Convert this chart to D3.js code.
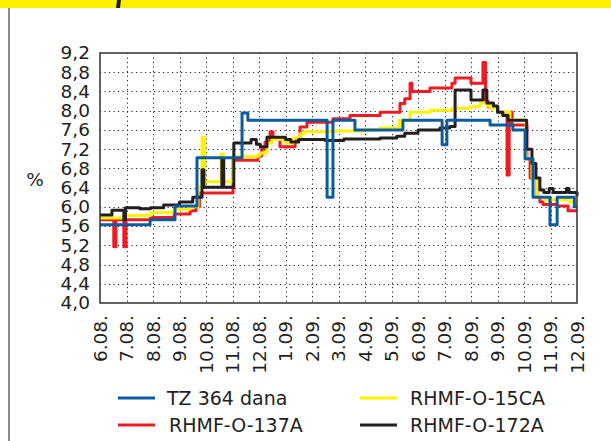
<!DOCTYPE html>
<html>
<head>
<meta charset="utf-8">
<script src="https://cdn.jsdelivr.net/npm/d3@7"></script>
<style>
  body { margin: 0; background: #fff; }
  svg { display: block; font-family: "DejaVu Sans", sans-serif; }
</style>
</head>
<body>
<svg id="chart" width="611" height="441"></svg>
<script>
(function () {
    'use strict';

    // month labels on the x axis (one per month)
    const months = ["6.08.", "7.08.", "8.08.", "9.08.", "10.08.", "11.08.", "12.08.",
        "1.09.", "2.09.", "3.09.", "4.09.", "5.09.", "6.09.", "7.09.", "8.09.",
        "9.09.", "10.09.", "11.09.", "12.09."];
    const yTicks = [4.0, 4.4, 4.8, 5.2, 5.6, 6.0, 6.4, 6.8, 7.2, 7.6, 8.0, 8.4, 8.8, 9.2];

    // [month position, %]
    const tz364 = [[0, 5.63], [1.89, 5.73], [2.83, 6.02], [3.66, 7.02], [5.36, 7.95], [5.58, 7.8],
        [8.57, 6.2], [8.79, 7.8], [9.62, 7.6], [11.43, 7.8], [12.91, 7.29], [13.09, 7.8],
        [14.72, 7.7], [15.58, 7.6], [16.04, 7.0], [16.34, 6.2], [16.98, 5.63], [17.25, 6.2],
        [17.9, 6.0], [18, 6.0]];
    const rhmf137 = [[0, 5.73], [0.52, 5.17], [0.6, 5.73], [0.9, 5.17], [0.98, 5.73], [1.9, 5.78],
        [2.8, 5.85], [3.4, 5.92], [3.62, 6.0], [3.75, 6.29], [5.02, 6.97], [5.96, 7.06],
        [6.1, 7.2], [6.23, 7.35], [6.42, 7.56], [6.53, 7.4], [6.79, 7.25], [7.36, 7.4],
        [7.55, 7.66], [7.81, 7.76], [8.79, 7.83], [9.43, 7.9], [10.57, 7.97], [11.32, 8.15],
        [11.5, 8.25], [11.7, 8.57], [11.77, 8.4], [12.45, 8.47], [13.28, 8.57], [13.4, 8.68],
        [14.0, 8.57], [14.45, 9.0], [14.55, 8.2], [14.64, 8.08], [15.02, 7.97], [15.36, 6.66],
        [15.44, 7.97], [15.55, 7.7], [16.11, 7.0], [16.23, 6.6], [16.49, 6.2], [16.6, 6.1],
        [16.72, 6.05], [17.25, 6.02], [17.66, 5.92], [18, 5.92]];
    const rhmf15 = [[0, 5.77], [0.9, 5.82], [1.9, 5.88], [2.8, 5.95], [3.4, 6.0], [3.7, 6.4],
        [3.85, 7.45], [3.95, 6.52], [4.57, 7.1], [4.65, 6.52], [5.02, 7.04], [5.96, 7.08],
        [6.05, 7.12], [6.3, 7.33], [6.49, 7.4], [7.0, 7.33], [7.3, 7.43], [7.55, 7.52],
        [7.7, 7.56], [8.8, 7.58], [10.0, 7.6], [10.57, 7.64], [11.3, 7.8], [11.7, 7.97],
        [12.45, 8.01], [13.28, 8.05], [13.96, 8.08], [14.34, 8.16], [14.6, 8.1], [14.75, 8.05],
        [15.0, 7.97], [15.47, 7.8], [16.08, 7.0], [16.3, 6.6], [16.49, 6.2], [16.8, 6.15],
        [17.7, 6.1], [18, 6.1]];
    const rhmf172 = [[0, 5.83], [0.45, 5.93], [0.9, 5.73], [0.96, 5.98], [1.5, 5.96], [1.9, 5.98],
        [2.4, 6.04], [3.0, 6.1], [3.5, 6.2], [3.85, 6.77], [3.92, 6.41], [4.6, 7.0], [4.67, 6.41],
        [5.05, 7.33], [5.7, 7.4], [5.9, 7.3], [6.05, 7.25], [6.3, 7.45], [7.0, 7.4], [7.2, 7.35],
        [7.5, 7.4], [8.5, 7.38], [9.2, 7.41], [10.57, 7.43], [11.2, 7.47], [11.5, 7.53],
        [12.0, 7.6], [12.83, 7.64], [13.2, 7.67], [13.4, 8.43], [14.0, 8.22], [14.45, 8.43],
        [14.6, 8.16], [14.85, 8.1], [15.0, 7.97], [15.2, 7.9], [15.4, 7.8], [16.1, 7.2],
        [16.3, 6.9], [16.45, 6.6], [16.6, 6.35], [16.75, 6.3], [16.95, 6.38], [17.1, 6.3],
        [17.6, 6.38], [17.7, 6.3], [18, 6.22]];

    const series = [
        {name: "RHMF-O-137A", color: "#ed1c24", data: rhmf137},
        {name: "RHMF-O-15CA", color: "#fff200", data: rhmf15},
        {name: "RHMF-O-172A", color: "#231f20", data: rhmf172},
        {name: "TZ 364 dana", color: "#0b5c9e", data: tz364}
    ];

    const textColor = "#231f20";
    const plot = {left: 100, right: 577, top: 53, bottom: 303};

    const svg = d3.select("#chart");
    svg.append("rect").attr("width", 611).attr("height", 441).attr("fill", "#fff");

    // yellow band at top, and page rule on the left
    svg.append("rect").attr("x", 0).attr("y", 0).attr("width", 611).attr("height", 8).attr("fill", "#fff000");
    svg.append("path").attr("d", "M117,0 L121,0 L120,8 L116,8 Z").attr("fill", "#231f20");
    svg.append("line").attr("x1", 9).attr("x2", 9).attr("y1", 8).attr("y2", 441)
        .attr("stroke", "#8a8a8a").attr("stroke-width", 2);

    const x = d3.scaleLinear().domain([0, months.length - 1]).range([plot.left, plot.right]);
    const y = d3.scaleLinear().domain([4, 9.2]).range([plot.bottom, plot.top]);

    // dotted grid
    const grid = svg.append("g").attr("stroke", "#231f20").attr("stroke-width", 1)
        .attr("stroke-dasharray", "1.2,3.3");
    grid.selectAll("line.h")
        .data(yTicks.slice(1, -1))
        .join("line")
        .attr("class", "h")
        .attr("x1", plot.left).attr("x2", plot.right)
        .attr("y1", d => Math.round(y(d)) + 0.5).attr("y2", d => Math.round(y(d)) + 0.5);
    grid.selectAll("line.v")
        .data(d3.range(1, months.length - 1))
        .join("line")
        .attr("class", "v")
        .attr("y1", plot.top).attr("y2", plot.bottom)
        .attr("x1", d => Math.round(x(d)) + 0.5).attr("x2", d => Math.round(x(d)) + 0.5);

    // y axis labels
    const yAxis = d3.axisLeft(y)
        .tickValues(yTicks)
        .tickSize(0)
        .tickPadding(10)
        .tickFormat(d => d3.format(".1f")(d).replace(".", ","));
    const gy = svg.append("g")
        .attr("transform", `translate(${plot.left},0)`)
        .call(yAxis);
    gy.select(".domain").remove();
    gy.selectAll("text")
        .attr("font-size", 18.5)
        .attr("font-family", "DejaVu Sans, sans-serif")
        .attr("fill", textColor);

    // x axis labels (rotated)
    const xAxis = d3.axisBottom(x)
        .tickValues(d3.range(months.length))
        .tickSize(0)
        .tickFormat(i => months[i]);
    const gx = svg.append("g")
        .attr("transform", `translate(0,${plot.bottom})`)
        .call(xAxis);
    gx.select(".domain").remove();
    gx.selectAll("text")
        .attr("font-size", 18.5)
        .attr("font-family", "DejaVu Sans, sans-serif")
        .attr("fill", textColor)
        .attr("text-anchor", "end")
        .attr("transform", "translate(0,12) rotate(-90)")
        .attr("x", 0)
        .attr("y", 0)
        .attr("dy", "0.35em");

    svg.append("text")
        .attr("x", 35).attr("y", 180)
        .attr("text-anchor", "middle").attr("dy", "0.35em")
        .attr("font-size", 18.5).attr("fill", textColor)
        .text("%");

    // series
    const line = d3.line()
        .x(d => x(d[0]))
        .y(d => y(d[1]))
        .curve(d3.curveStepAfter);

    svg.append("g")
        .selectAll("path")
        .data(series)
        .join("path")
        .attr("fill", "none")
        .attr("stroke", d => d.color)
        .attr("stroke-width", 3)
        .attr("stroke-linejoin", "round")
        .attr("d", d => line(d.data));

    // frame
    svg.append("rect")
        .attr("x", plot.left).attr("y", plot.top)
        .attr("width", plot.right - plot.left).attr("height", plot.bottom - plot.top)
        .attr("fill", "none").attr("stroke", "#3c3c3c").attr("stroke-width", 1.6);

    // legend
    const legendItems = [
        {s: series[3], lx: 118, tx: 167, ty: 398},
        {s: series[0], lx: 118, tx: 169, ty: 425},
        {s: series[1], lx: 360, tx: 410, ty: 398},
        {s: series[2], lx: 360, tx: 410, ty: 425}
    ];
    const lg = svg.append("g").selectAll("g").data(legendItems).join("g");
    lg.append("line")
        .attr("x1", d => d.lx).attr("x2", d => d.lx + 37)
        .attr("y1", d => d.ty).attr("y2", d => d.ty)
        .attr("stroke", d => d.s.color).attr("stroke-width", 3);
    lg.append("text")
        .attr("x", d => d.tx).attr("y", d => d.ty)
        .attr("dy", "0.35em")
        .attr("font-size", 19).attr("fill", textColor)
        .text(d => d.s.name);
}());
</script>
</body>
</html>
